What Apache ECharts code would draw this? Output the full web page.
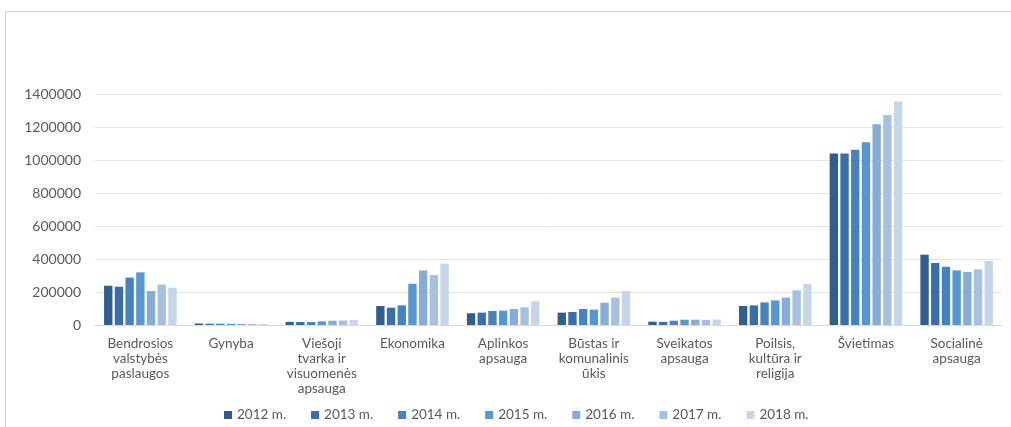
<!DOCTYPE html>
<html>
<head>
<meta charset="utf-8">
<script src="https://cdn.jsdelivr.net/npm/echarts@6/dist/echarts.min.js"></script>
<style>
  html, body { margin: 0; padding: 0; background: #fff; }
  #chart { width: 1011px; height: 427px; }
</style>
</head>
<body>
<div id="chart"></div>
<script>
// kategorijos
var categories = [
  'Bendrosios\nvalstybės\npaslaugos', 'Gynyba', 'Viešoji\ntvarka ir\nvisuomenės\napsauga',
  'Ekonomika', 'Aplinkos\napsauga', 'Būstas ir\nkomunalinis\nūkis', 'Sveikatos\napsauga',
  'Poilsis,\nkultūra ir\nreligija', 'Švietimas', 'Socialinė\napsauga'
];
var years = ['2012 m.', '2013 m.', '2014 m.', '2015 m.', '2016 m.', '2017 m.', '2018 m.'];
var colors = ['#2f5f8f', '#3a6ea8', '#4682c0', '#5795d3', '#88acd8', '#a8c0e0', '#c6d6ea'];

// reikšmės pagal metus
var v2012 = [238000, 9000, 19000, 115000, 71000, 75000, 20000, 115000, 1040000, 426000];
var v2013 = [232000, 8000, 18000, 105000, 75000, 79000, 19000, 119000, 1040000, 376000];
var v2014 = [287000, 8000, 18000, 119000, 85000, 97000, 26000, 137000, 1062000, 353000];
var v2015 = [319000, 7500, 22000, 250000, 87000, 93000, 32000, 149000, 1107000, 331000];
var v2016 = [206000, 7000, 26000, 331000, 97000, 135000, 32000, 166000, 1216000, 321000];
var v2017 = [246000, 6500, 27000, 303000, 107000, 166000, 31000, 210000, 1273000, 337000];
var v2018 = [226000, 6000, 30000, 372000, 143000, 206000, 33000, 248000, 1355000, 388000];
var values = [v2012, v2013, v2014, v2015, v2016, v2017, v2018];

var chart = echarts.init(document.getElementById('chart'));

var series = years.map(function (y, i) {
  return {
    name: y,
    type: 'bar',
    barGap: '28%',
    barCategoryGap: '20%',
    itemStyle: { color: colors[i] },
    data: values[i]
  };
});

var option = {
  animation: false,
  color: colors,
  textStyle: { fontFamily: 'Lato' },
  graphic: [{
    type: 'rect',
    shape: { x: 5.5, y: 11.5, width: 1100, height: 600 },
    style: { fill: 'none', stroke: '#d4d4d4', lineWidth: 1 },
    silent: true
  }],
  legend: {
    left: 219,
    top: 403,
    itemWidth: 8,
    itemHeight: 8,
    itemGap: 25,
    icon: 'rect',
    textStyle: { fontSize: 13.5, color: '#595959', fontFamily: 'Lato' },
    data: years
  },
  grid: { left: 95, right: 9, top: 94, bottom: 102, containLabel: false },
  xAxis: {
    type: 'category',
    data: categories,
    axisTick: { show: false },
    axisLine: { lineStyle: { color: '#d9d9d9' } },
    axisLabel: {
      interval: 0,
      margin: 11,
      fontSize: 13.5,
      lineHeight: 15,
      color: '#595959',
      fontFamily: 'Lato'
    }
  },
  yAxis: {
    type: 'value',
    min: 0,
    max: 1400000,
    interval: 200000,
    axisLine: { show: false },
    axisTick: { show: false },
    splitLine: { lineStyle: { color: '#e3e3e3' } },
    axisLabel: {
      margin: 14,
      fontSize: 14,
      color: '#595959',
      fontFamily: 'Lato',
      formatter: function (v) { return String(v); }
    }
  },
  series: series
};

chart.setOption(option);
window.onresize = chart.resize;
</script>
</body>
</html>
